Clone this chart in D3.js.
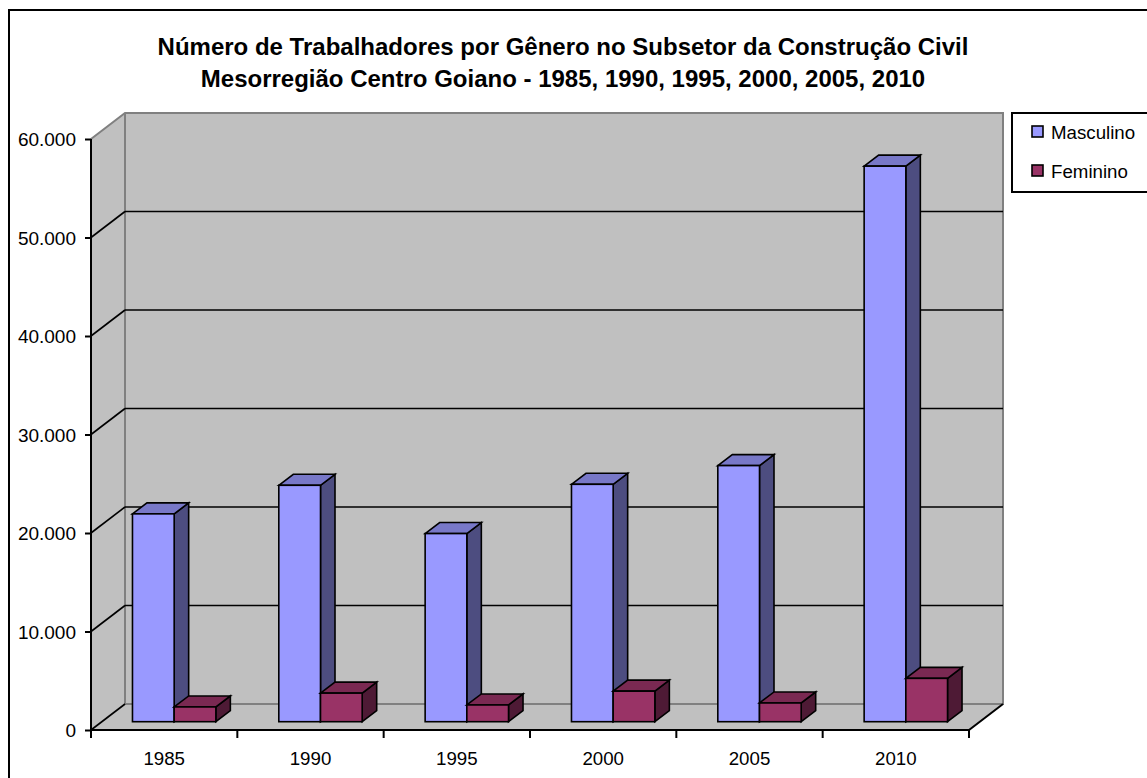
<!DOCTYPE html>
<html>
<head>
<meta charset="utf-8">
<script src="https://cdn.jsdelivr.net/npm/d3@7"></script>
<style>
  html, body { margin: 0; padding: 0; background: #ffffff; }
  svg { display: block; }
  text { font-family: "Liberation Sans", Arial, sans-serif; fill: #000; }
</style>
</head>
<body>
<svg id="chart" width="1147" height="778"></svg>
<script>
// ---- data ----
const years = ["1985", "1990", "1995", "2000", "2005", "2010"];
const masculino = [21100, 24000, 19100, 24100, 26000, 56400];
const feminino = [1500, 2900, 1700, 3100, 1900, 4400];
const seriesNames = ["Masculino", "Feminino"];
const yTicks = [0, 10000, 20000, 30000, 40000, 50000, 60000];
const titleLines = [
  "Número de Trabalhadores por Gênero no Subsetor da Construção Civil",
  "Mesorregião Centro Goiano - 1985, 1990, 1995, 2000, 2005, 2010"
];

// ---- styles ----
const colors = {
  Masculino: { front: "#9999FF", top: "#7878C8", side: "#4D4D80" },
  Feminino: { front: "#993366", top: "#7A2952", side: "#4E1A35" }
};
const wallFill = "#C0C0C0";
const wallEdge = "#808080";

const svg = d3.select("#chart");
const locale = d3.formatLocale({ decimal: ",", thousands: ".", grouping: [3], currency: ["R$", ""] });
const fmt = locale.format(",");

// geometry
const frontLeft = 91, frontRight = 969, yBottom = 730, yTop = 139;
const DX = 34, DY = -26;          // full depth offset of the walls
const barOffX = 10, barOffY = -8.3; // bars' front position along depth
const ddx = 14.5, ddy = -11;       // bars' depth

const y = d3.scaleLinear().domain([0, 60000]).range([yBottom, yTop]);
const x = d3.scaleBand().domain(years).range([frontLeft, frontRight]).padding(0);
const xs = d3.scaleBand().domain(seriesNames).range([0, x.bandwidth()])
  .paddingInner(0).paddingOuter(0.755);

// outer border
svg.append("rect").attr("x", 9).attr("y", 10).attr("width", 1200).attr("height", 800)
  .attr("fill", "none").attr("stroke", "#000").attr("stroke-width", 2);

// walls
const g = svg.append("g");
g.append("polygon")
  .attr("points", [[frontLeft, y(60000)], [frontLeft + DX, y(60000) + DY], [frontLeft + DX, y(0) + DY], [frontLeft, y(0)]].join(" "))
  .attr("fill", wallFill);
g.append("rect")
  .attr("x", frontLeft + DX).attr("y", y(60000) + DY)
  .attr("width", frontRight - frontLeft).attr("height", y(0) - y(60000))
  .attr("fill", wallFill);
g.append("polygon")
  .attr("points", [[frontLeft, y(0)], [frontRight, y(0)], [frontRight + DX, y(0) + DY], [frontLeft + DX, y(0) + DY]].join(" "))
  .attr("fill", wallFill);

// wall edges (gray)
g.append("path")
  .attr("d", `M${frontLeft},${y(60000)} L${frontLeft + DX},${y(60000) + DY} L${frontRight + DX},${y(60000) + DY} L${frontRight + DX},${y(0) + DY} L${frontLeft + DX},${y(0) + DY} L${frontLeft + DX},${y(60000) + DY}`)
  .attr("fill", "none").attr("stroke", wallEdge).attr("stroke-width", 2);

// gridlines
const gridVals = yTicks.filter(v => v > 0 && v < 60000);
g.selectAll("line.gh").data(gridVals).join("line").attr("class", "gh")
  .attr("x1", frontLeft + DX).attr("x2", frontRight + DX)
  .attr("y1", d => y(d) + DY).attr("y2", d => y(d) + DY)
  .attr("stroke", "#000").attr("stroke-width", 1.6);
g.selectAll("line.gd").data(yTicks.filter(v => v < 60000)).join("line").attr("class", "gd")
  .attr("x1", frontLeft).attr("x2", frontLeft + DX)
  .attr("y1", d => y(d)).attr("y2", d => y(d) + DY)
  .attr("stroke", "#000").attr("stroke-width", 1.6);

// floor front edge and right edge (black)
g.append("path")
  .attr("d", `M${frontLeft},${y(0)} L${frontRight},${y(0)} L${frontRight + DX},${y(0) + DY}`)
  .attr("fill", "none").attr("stroke", "#000").attr("stroke-width", 2);

// y axis
const yAxis = d3.axisLeft(y).tickValues(yTicks).tickFormat(fmt).tickSize(6).tickPadding(9);
const ya = svg.append("g").attr("transform", `translate(${frontLeft},0)`).call(yAxis);
ya.select(".domain").remove();
ya.append("line").attr("x1", 0).attr("x2", 0).attr("y1", y(60000)).attr("y2", y(0))
  .attr("stroke", "#000").attr("stroke-width", 2);
ya.selectAll(".tick line").attr("stroke", "#000").attr("stroke-width", 2);
ya.selectAll(".tick text").attr("font-size", "19px").attr("dy", "0.36em")
  .style("font-family", "'Liberation Sans', Arial, sans-serif").attr("fill", "#000");

// x axis
const xAxis = d3.axisBottom(x).tickSize(0).tickPadding(0);
const xa = svg.append("g").attr("transform", `translate(0,${y(0)})`).call(xAxis);
xa.select(".domain").remove();
xa.selectAll(".tick text").attr("y", 35).attr("dy", 0).attr("font-size", "18.7px")
  .style("font-family", "'Liberation Sans', Arial, sans-serif").attr("fill", "#000");
const xTickPos = years.map(d => x(d)).concat([frontRight]);
svg.append("g").selectAll("line").data(xTickPos).join("line")
  .attr("x1", d => d).attr("x2", d => d).attr("y1", y(0)).attr("y2", y(0) + 8)
  .attr("stroke", "#000").attr("stroke-width", 2);

// bars
const bars = [];
years.forEach((yr, i) => {
  bars.push({ year: yr, series: "Masculino", value: masculino[i] });
  bars.push({ year: yr, series: "Feminino", value: feminino[i] });
});
const bg = svg.append("g");
bars.forEach(b => {
  const w = xs.bandwidth();
  const fx = x(b.year) + xs(b.series) + barOffX;
  const by = y(0) + barOffY;
  const fy = y(b.value) + barOffY;
  const c = colors[b.series];
  const gb = bg.append("g").attr("stroke", "#000").attr("stroke-width", 1.6).attr("stroke-linejoin", "miter");
  gb.append("polygon")
    .attr("points", [[fx + w, fy], [fx + w + ddx, fy + ddy], [fx + w + ddx, by + ddy], [fx + w, by]].join(" "))
    .attr("fill", c.side);
  gb.append("polygon")
    .attr("points", [[fx, fy], [fx + ddx, fy + ddy], [fx + w + ddx, fy + ddy], [fx + w, fy]].join(" "))
    .attr("fill", c.top);
  gb.append("rect").attr("x", fx).attr("y", fy).attr("width", w).attr("height", by - fy)
    .attr("fill", c.front);
});

// legend
const lg = svg.append("g");
lg.append("rect").attr("x", 1012).attr("y", 113).attr("width", 160).attr("height", 79)
  .attr("fill", "#fff").attr("stroke", "#000").attr("stroke-width", 2);
seriesNames.forEach((s, i) => {
  const yy = 132 + i * 39;
  lg.append("rect").attr("x", 1032).attr("y", yy - 6).attr("width", 11).attr("height", 11)
    .attr("fill", colors[s].front).attr("stroke", "#000").attr("stroke-width", 1.6);
  lg.append("text").attr("x", 1051).attr("y", yy + 6.5).attr("font-size", "18.7px").text(s);
});

// title
svg.append("g").selectAll("text").data(titleLines).join("text")
  .attr("x", 563).attr("y", (d, i) => 55 + i * 31.5)
  .attr("text-anchor", "middle").attr("font-weight", "bold").attr("font-size", "24px")
  .text(d => d);
</script>
</body>
</html>
